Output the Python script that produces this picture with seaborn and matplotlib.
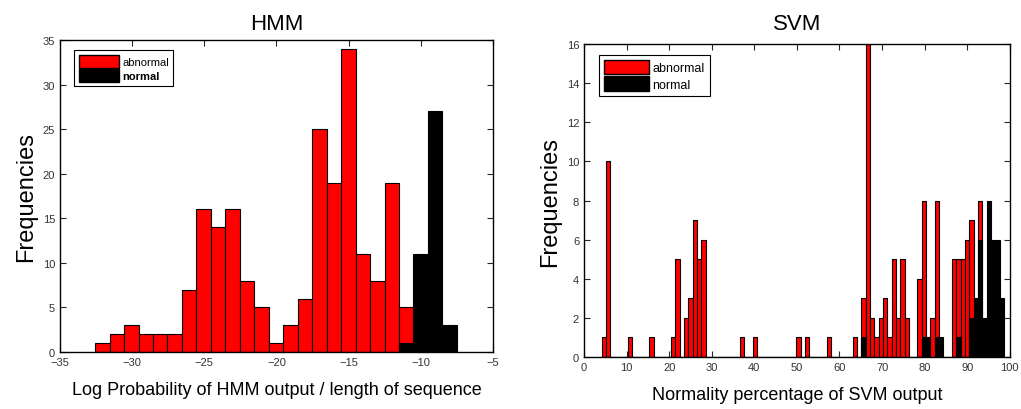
import numpy as np
import pandas as pd
import matplotlib
matplotlib.use("Agg")
import matplotlib.pyplot as plt
import seaborn as sns
from matplotlib.patches import Patch

# HMM: 25 bins of log probability / sequence length
hmm_range = (-32.57, -7.5)
hmm_abnormal = [1, 2, 3, 2, 2, 2, 7, 16, 14, 16, 8, 5, 1, 3, 6, 25, 19, 34, 11, 8, 19, 5, 0, 0, 0]
hmm_normal = [0] * 21 + [1, 11, 27, 3]

# SVM: 93 bins of normality percentage, counts given by bin index
svm_range = (4.15, 98.65)
svm_nbins = 93
svm_abn_bin = [0, 1, 6, 11, 16, 17, 19, 20, 21, 22, 23, 32, 35, 45, 47, 52, 58,
               60, 61, 62, 63, 64, 65, 66, 67, 68, 69, 70, 73, 74, 76, 77,
               81, 82, 83, 84, 85, 87]
svm_abn_cnt = [1, 10, 1, 1, 1, 5, 2, 3, 7, 5, 6, 1, 1, 1, 1, 1, 1,
               3, 16, 2, 1, 2, 3, 1, 5, 2, 5, 2, 4, 8, 2, 8,
               5, 5, 5, 6, 7, 8]
svm_nor_bin = [60, 74, 75, 77, 78, 82, 85, 86, 87, 88, 89, 90, 91, 92]
svm_nor_cnt = [1, 1, 1, 1, 1, 1, 2, 3, 6, 2, 8, 6, 6, 3]

sns.set_style("white")
plt.rcParams['font.family'] = ['Liberation Sans', 'DejaVu Sans']
plt.rcParams['text.color'] = 'black'
plt.rcParams['axes.labelcolor'] = 'black'

fig = plt.figure(figsize=(10.21, 4.10), dpi=100)
ax1 = fig.add_axes([0.0588, 0.139, 0.424, 0.761])
ax2 = fig.add_axes([0.572, 0.127, 0.417, 0.763])


def draw_hist(ax, edges, counts, color):
    centers = (edges[:-1] + edges[1:]) / 2
    df = pd.DataFrame({'x': centers, 'n': np.asarray(counts, dtype=float)})
    sns.histplot(data=df, x='x', weights='n', bins=list(edges), ax=ax, color=color,
                 edgecolor='black', linewidth=0.8, alpha=1.0)


# HMM panel
hmm_edges = np.linspace(hmm_range[0], hmm_range[1], len(hmm_abnormal) + 1)
draw_hist(ax1, hmm_edges, hmm_abnormal, '#ff0000')
draw_hist(ax1, hmm_edges, hmm_normal, 'black')
ax1.set_xlim(-35, -5)
ax1.set_ylim(0, 35)
ax1.set_xticks(np.arange(-35, -4, 5))
ax1.set_yticks(np.arange(0, 36, 5))

# SVM panel
svm_edges = np.linspace(svm_range[0], svm_range[1], svm_nbins + 1)
abn = np.zeros(svm_nbins)
abn[svm_abn_bin] = svm_abn_cnt
nor = np.zeros(svm_nbins)
nor[svm_nor_bin] = svm_nor_cnt
draw_hist(ax2, svm_edges, abn, '#ff0000')
draw_hist(ax2, svm_edges, nor, 'black')
ax2.set_xlim(0, 100)
ax2.set_ylim(0, 16)
ax2.set_xticks(np.arange(0, 101, 10))
ax2.set_yticks(np.arange(0, 17, 2))

for ax, title, xlabel, tpad in [(ax1, 'HMM', 'Log Probability of HMM output / length of sequence', 8),
                                (ax2, 'SVM', 'Normality percentage of SVM output', 11)]:
    ax.set_title(title, fontsize=16, pad=tpad, color='black')
    ax.set_xlabel(xlabel, fontsize=13, labelpad=10)
    ax.set_ylabel('Frequencies', fontsize=17, labelpad=4)
    ax.tick_params(direction='in', length=4, width=0.8, labelsize=8,
                   labelcolor='#333333', top=True, right=True, bottom=True, left=True)
    for s in ax.spines.values():
        s.set_color('black')
        s.set_linewidth(1.0)

handles = [Patch(facecolor='#ff0000', edgecolor='black', label='abnormal'),
           Patch(facecolor='black', edgecolor='black', label='normal')]
for ax, fs in ((ax1, 8), (ax2, 9)):
    leg = ax.legend(handles=handles, loc='upper left', fontsize=fs, fancybox=False,
                    edgecolor='black', framealpha=1, handlelength=3.6, handleheight=1.4,
                    borderpad=0.4, labelspacing=0.15, handletextpad=0.3,
                    bbox_to_anchor=(0.02, 0.985))
    leg.get_frame().set_linewidth(0.8)
ax1.get_legend().get_texts()[1].set_fontweight('bold')

fig.savefig('out.png', dpi=100)
